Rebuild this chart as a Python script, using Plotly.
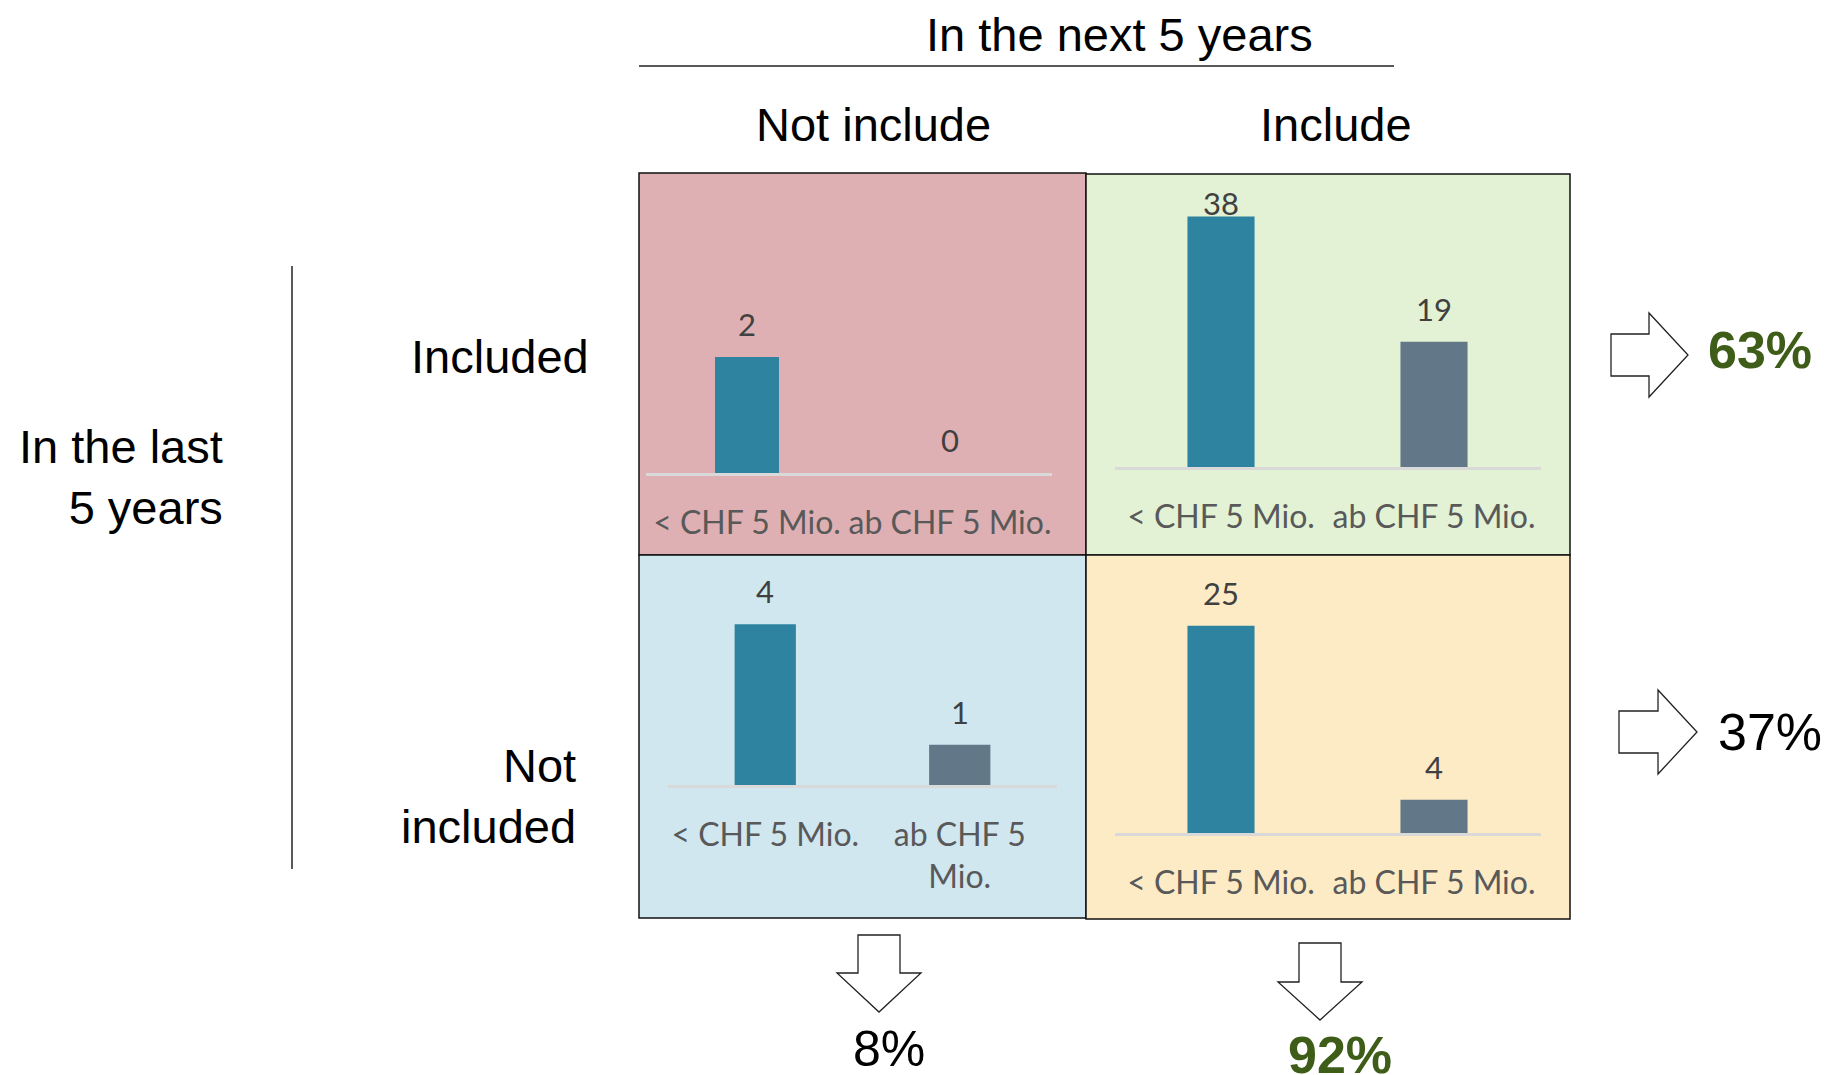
import plotly.graph_objects as go

W, H = 1829, 1075

# ---------------- data ----------------
categories = ["< CHF 5 Mio.", "ab CHF 5 Mio."]
incl_past_not_next = [2, 0]     # included last 5y, not include next 5y
incl_past_incl_next = [38, 19]  # included last 5y, include next 5y
not_past_not_next = [4, 1]      # not included last 5y, not include next 5y
not_past_incl_next = [25, 4]    # not included last 5y, include next 5y
bar_colors = ["#2e83a0", "#627889"]

col_headers = ["Not include", "Include"]
row_headers = ["Included", "Not<br>included"]
title_top = "In the next 5 years"
title_left = "In the last<br>5 years"

ARIAL = "Arial, Liberation Sans, sans-serif"
LATO = "Lato, Open Sans, sans-serif"
HEAD = 47


def px(x):
    return x / W


def py(y):
    return 1 - y / H


# panel geometry (pixels): panel box, plot area, y max
panels = [
    dict(data=incl_past_not_next, box=(639, 173, 1086, 555), fill="#dfb0b3",
         px0=645.5, px1=1051.5, top=328, base=473, ymax=2.5,
         ticks=["< CHF 5 Mio.", "ab CHF 5 Mio."]),
    dict(data=incl_past_incl_next, box=(1086, 174, 1570, 555), fill="#e3f1d4",
         px0=1114.5, px1=1540.5, top=190, base=467, ymax=42,
         ticks=["< CHF 5 Mio.", "ab CHF 5 Mio."]),
    dict(data=not_past_not_next, box=(639, 555, 1086, 918), fill="#d0e7f0",
         px0=668, px1=1057, top=584, base=785, ymax=5,
         ticks=["< CHF 5 Mio.", "ab CHF 5<br>Mio."]),
    dict(data=not_past_incl_next, box=(1086, 555, 1570, 919), fill="#fdebc6",
         px0=1114.5, px1=1540.5, top=601, base=833, ymax=28,
         ticks=["< CHF 5 Mio.", "ab CHF 5 Mio."]),
]

fig = go.Figure()
layout = dict(
    width=W, height=H, margin=dict(l=0, r=0, t=0, b=0, pad=0, autoexpand=False),
    paper_bgcolor="white", plot_bgcolor="rgba(0,0,0,0)",
    showlegend=False, shapes=[], annotations=[],
)

for i, p in enumerate(panels):
    n = i + 1
    xa = "xaxis" if n == 1 else f"xaxis{n}"
    ya = "yaxis" if n == 1 else f"yaxis{n}"
    xr = "x" if n == 1 else f"x{n}"
    yr = "y" if n == 1 else f"y{n}"
    # panel background
    x0, y0, x1, y1 = p["box"]
    layout["shapes"].append(dict(
        type="rect", xref="paper", yref="paper",
        x0=px(x0), x1=px(x1), y0=py(y1), y1=py(y0),
        fillcolor=p["fill"], line=dict(color="#111111", width=1.5), layer="below"))
    fig.add_trace(go.Bar(
        x=categories, y=p["data"], marker=dict(color=bar_colors, line=dict(width=0)),
        width=0.315, xaxis=xr, yaxis=yr, hoverinfo="x+y"))
    layout[xa] = dict(
        domain=[px(p["px0"]), px(p["px1"])], anchor=yr, type="category",
        range=[-0.5, 1.5], showgrid=False, zeroline=False, automargin=False,
        showline=True, linecolor="#d9d9d9", linewidth=2.5,
        ticks="outside", ticklen=20, tickcolor="rgba(0,0,0,0)", tickangle=0,
        tickvals=categories, ticktext=p["ticks"],
        tickfont=dict(family=LATO, size=32, color="#595959"), fixedrange=True)
    layout[ya] = dict(
        domain=[py(p["base"]), py(p["top"])], anchor=xr, range=[0, p["ymax"]],
        visible=False, showgrid=False, zeroline=False, fixedrange=True, automargin=False)
    ppu = (p["base"] - p["top"]) / p["ymax"]
    for c, v in zip(categories, p["data"]):
        bar_top = p["base"] - v * ppu
        label_y = max(bar_top - 33, y0 + 29)
        layout["annotations"].append(dict(
            xref=xr, yref=yr, x=c, y=v, yshift=bar_top - label_y,
            text=str(v), showarrow=False, yanchor="middle",
            font=dict(family=LATO, size=31, color="#404040")))

# headers
ann = layout["annotations"]
ann.append(dict(xref="paper", yref="paper", x=px(1119), y=py(34), text=title_top,
                showarrow=False, xanchor="center", yanchor="middle",
                font=dict(family=ARIAL, size=HEAD, color="black")))
ann.append(dict(xref="paper", yref="paper", x=px(873), y=py(124), text=col_headers[0],
                showarrow=False, xanchor="center", yanchor="middle",
                font=dict(family=ARIAL, size=HEAD, color="black")))
ann.append(dict(xref="paper", yref="paper", x=px(1336), y=py(124), text=col_headers[1],
                showarrow=False, xanchor="center", yanchor="middle",
                font=dict(family=ARIAL, size=HEAD, color="black")))
ann.append(dict(xref="paper", yref="paper", x=px(225), y=py(477), text=title_left,
                showarrow=False, xanchor="right", yanchor="middle", align="right",
                font=dict(family=ARIAL, size=HEAD, color="black")))
ann.append(dict(xref="paper", yref="paper", x=px(591), y=py(356), text=row_headers[0],
                showarrow=False, xanchor="right", yanchor="middle", align="right",
                font=dict(family=ARIAL, size=HEAD, color="black")))
ann.append(dict(xref="paper", yref="paper", x=px(578), y=py(796), text=row_headers[1],
                showarrow=False, xanchor="right", yanchor="middle", align="right",
                font=dict(family=ARIAL, size=HEAD, color="black")))

# separator lines
layout["shapes"].append(dict(type="line", xref="paper", yref="paper",
                             x0=px(639), x1=px(1394), y0=py(66), y1=py(66),
                             line=dict(color="#222222", width=1.5)))
layout["shapes"].append(dict(type="line", xref="paper", yref="paper",
                             x0=px(292), x1=px(292), y0=py(266), y1=py(869),
                             line=dict(color="#222222", width=1.5)))

# shares computed from data
total = sum(incl_past_not_next + incl_past_incl_next + not_past_not_next + not_past_incl_next)
row_share = [sum(incl_past_not_next + incl_past_incl_next) / total,
             sum(not_past_not_next + not_past_incl_next) / total]
col_share = [sum(incl_past_not_next + not_past_not_next) / total,
             sum(incl_past_incl_next + not_past_incl_next) / total]
GREEN = "#3e5d18"


def right_arrow(xl, xb, xt, ys0, ys1, yh0, yh1):
    yc = (yh0 + yh1) / 2
    pts = [(xl, ys0), (xb, ys0), (xb, yh0), (xt, yc), (xb, yh1), (xb, ys1), (xl, ys1)]
    return "M " + " L ".join(f"{px(a):.5f},{py(b):.5f}" for a, b in pts) + " Z"


def down_arrow(xc, sw, hw, yt, yb, ytip):
    pts = [(xc - sw, yt), (xc + sw, yt), (xc + sw, yb), (xc + hw, yb), (xc, ytip),
           (xc - hw, yb), (xc - sw, yb)]
    return "M " + " L ".join(f"{px(a):.5f},{py(b):.5f}" for a, b in pts) + " Z"


arrows = [
    right_arrow(1611, 1649, 1688, 334, 376, 313, 397),
    right_arrow(1619, 1658, 1697, 711, 753, 690, 774),
    down_arrow(879, 21, 42, 935, 973, 1012),
    down_arrow(1320, 21, 42, 943, 982, 1020),
]
for a in arrows:
    layout["shapes"].append(dict(type="path", xref="paper", yref="paper", path=a,
                                 fillcolor="white", line=dict(color="#222222", width=1.3)))

row_pos = [(1760, 350), (1770, 732)]
col_pos = [(889, 1049), (1340, 1055)]
for share, (x, y), other in zip(row_share, row_pos, row_share[::-1]):
    big = share > other
    ann.append(dict(xref="paper", yref="paper", x=px(x), y=py(y), text=f"{round(share*100)}%",
                    showarrow=False, xanchor="center", yanchor="middle",
                    font=dict(family=ARIAL, size=52, color=GREEN if big else "black",
                              weight="bold" if big else "normal")))
for share, (x, y), other in zip(col_share, col_pos, col_share[::-1]):
    big = share > other
    ann.append(dict(xref="paper", yref="paper", x=px(x), y=py(y), text=f"{round(share*100)}%",
                    showarrow=False, xanchor="center", yanchor="middle",
                    font=dict(family=ARIAL, size=52 if big else 50, color=GREEN if big else "black",
                              weight="bold" if big else "normal")))

fig.update_layout(**layout)
fig.write_html("out.html")
